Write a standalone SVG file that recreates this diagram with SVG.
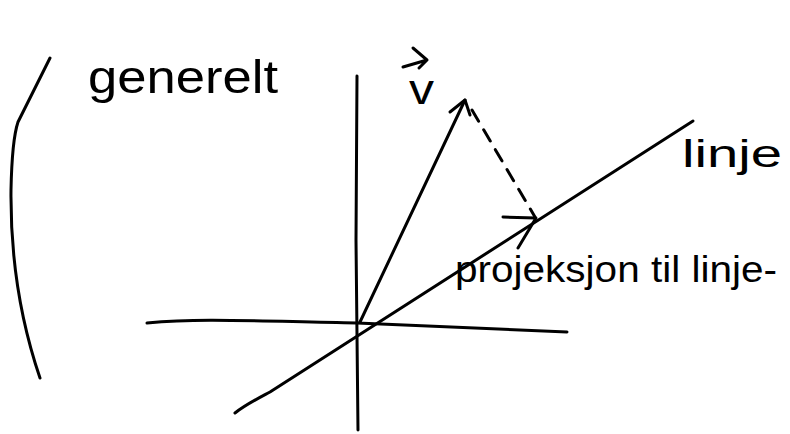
<svg xmlns="http://www.w3.org/2000/svg" width="790" height="434" viewBox="0 0 790 434">
<style>
.s{fill:none;stroke:#000;stroke-width:3;stroke-linecap:round;stroke-linejoin:round}
.t{font-family:"Liberation Sans",Arial,sans-serif;fill:#000}
</style>
<rect width="790" height="434" fill="#fff"/>
<g id="bracket"><path class="s" d="M50,58 L18,122 Q12,140 11,190 Q10,290 40,378"/></g>
<g id="label-generelt"><text class="t" x="88" y="93" font-size="46" textLength="190" lengthAdjust="spacingAndGlyphs">generelt</text></g>
<g id="y-axis"><path class="s" d="M357,76 L356,240 L358,430"/></g>
<g id="x-axis"><path class="s" d="M147,323 C200,318 250,321 357,323 L567,332"/></g>
<g id="line"><path class="s" d="M235,413 C245,405 255,400 270,392 L693,121"/></g>
<g id="label-linje"><text class="t" x="682" y="167" font-size="38" textLength="100" lengthAdjust="spacingAndGlyphs">linje</text></g>
<g id="label-v"><text class="t" x="409" y="104" font-size="42" textLength="25" lengthAdjust="spacingAndGlyphs">v</text><path class="s" d="M403,67 L427,60 M413,48 L427,60 L419,68"/></g>
<g id="label-projeksjon"><text class="t" x="455" y="282" font-size="36" textLength="322" lengthAdjust="spacingAndGlyphs">projeksjon til linje-</text></g>
<g id="connectors">
<path class="s" d="M360,322 L465,100"/>
<path class="s" d="M450,112 L465,100 L470,115"/>
<path class="s" d="M472,110 L535,217" stroke-dasharray="13 10"/>
<path class="s" d="M503,217 L536,218 L518,248"/>
</g>
</svg>
